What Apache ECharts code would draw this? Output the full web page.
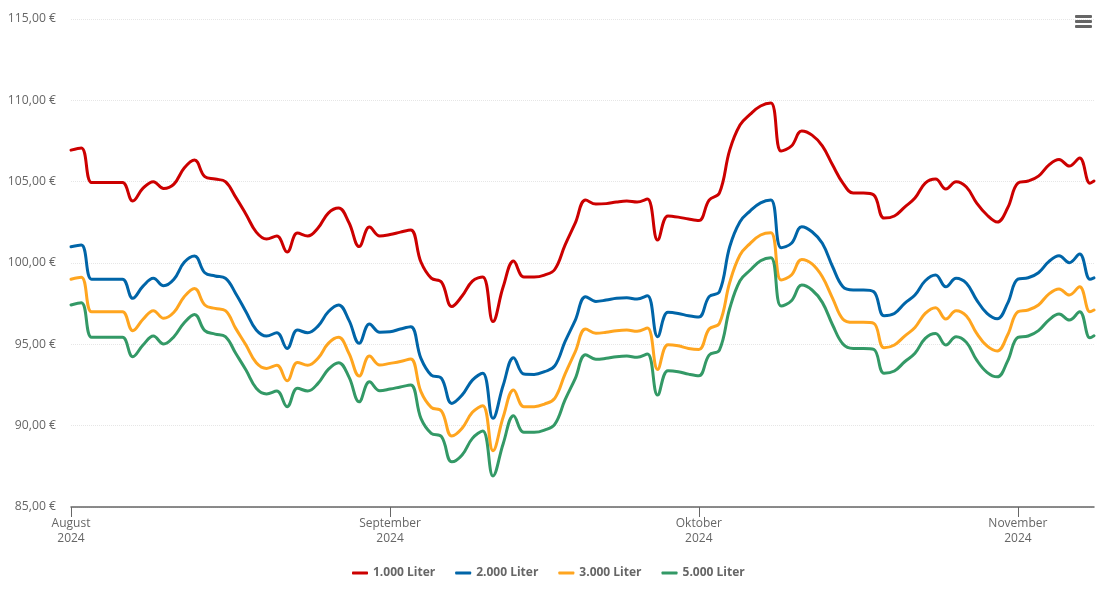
<!DOCTYPE html>
<html>
<head>
<meta charset="utf-8">
<style>html,body{margin:0;padding:0;background:#fff}#c{width:1105px;height:602px}</style>
<script src="https://cdn.jsdelivr.net/npm/echarts@6/dist/echarts.min.js"></script>
</head>
<body>
<div id="c"></div>
<script>
const startDay = "2024-08-01";
const lastSampleHours = 9.5; // last reading lies a few hours after the final daily sample
const monthTicks = ["2024-08-01","2024-09-01","2024-10-01","2024-11-01"];
const monthNames = ["August","September","Oktober","November"];
const yTicks = [85,90,95,100,105,110,115];

const liter1000 = [106.94,107.07,104.95,104.95,104.95,104.95,103.81,104.6,105.0,104.58,104.85,105.84,106.33,105.31,105.16,105.0,104.05,103.0,101.9,101.47,101.66,100.67,101.84,101.66,102.15,103.07,103.38,102.49,101.01,102.21,101.66,101.75,101.9,102.03,100.06,99.07,98.83,97.32,97.97,98.89,99.14,96.4,98.55,100.12,99.14,99.14,99.26,99.6,101.1,102.46,103.87,103.62,103.65,103.75,103.81,103.75,103.93,101.41,102.89,102.82,102.7,102.61,103.87,104.3,106.94,108.48,109.15,109.65,109.83,106.88,107.19,108.11,107.86,107.2,106.02,104.91,104.3,104.3,104.18,102.76,102.89,103.44,103.99,104.91,105.16,104.55,105.0,104.67,103.68,102.95,102.52,103.38,104.91,105.04,105.34,106.02,106.36,105.96,106.45,104.91,105.04];
const liter2000 = [101.0,101.1,99.0,99.0,99.0,99.0,97.83,98.58,99.06,98.6,99.0,100.04,100.43,99.4,99.2,99.06,98.13,97.0,95.88,95.51,95.71,94.75,95.88,95.71,96.12,97.0,97.42,96.49,95.06,96.25,95.74,95.77,95.94,96.08,94.14,93.11,92.91,91.37,91.88,92.8,93.22,90.45,92.5,94.18,93.17,93.15,93.32,93.67,95.16,96.49,97.93,97.64,97.72,97.83,97.86,97.78,97.99,95.47,96.97,96.9,96.76,96.68,97.93,98.23,101.0,102.54,103.21,103.7,103.87,100.94,101.21,102.23,101.92,101.21,99.77,98.54,98.34,98.34,98.23,96.76,96.9,97.52,98.03,98.91,99.26,98.54,99.06,98.75,97.72,96.9,96.57,97.52,99.01,99.09,99.4,100.08,100.45,100.02,100.55,99.0,99.09];
const liter3000 = [99.0,99.12,97.0,97.0,97.0,97.0,95.84,96.54,97.07,96.6,96.97,97.93,98.44,97.42,97.21,97.07,95.98,94.96,93.87,93.52,93.71,92.76,93.89,93.71,94.14,95.06,95.43,94.45,93.05,94.28,93.73,93.83,93.94,94.1,92.09,91.13,90.9,89.36,89.84,90.82,91.23,88.46,90.55,92.19,91.17,91.17,91.33,91.68,93.17,94.55,95.94,95.68,95.74,95.84,95.88,95.8,96.0,93.46,94.98,94.91,94.75,94.69,95.94,96.29,98.8,100.49,101.21,101.72,101.86,98.95,99.26,100.22,99.94,99.15,97.83,96.54,96.35,96.35,96.29,94.79,94.96,95.51,96.04,96.9,97.25,96.56,97.07,96.74,95.67,94.9,94.59,95.57,97.0,97.11,97.42,98.09,98.4,98.03,98.54,97.0,97.11];
const liter5000 = [97.42,97.56,95.43,95.43,95.43,95.43,94.24,94.96,95.51,95.02,95.47,96.33,96.84,95.84,95.63,95.47,94.45,93.42,92.3,91.95,92.13,91.17,92.3,92.13,92.6,93.46,93.87,93.0,91.47,92.7,92.15,92.25,92.38,92.5,90.45,89.53,89.32,87.78,88.2,89.22,89.67,86.91,88.91,90.61,89.59,89.59,89.73,90.08,91.58,92.91,94.36,94.08,94.14,94.24,94.28,94.2,94.4,91.88,93.38,93.32,93.17,93.07,94.34,94.65,97.2,98.91,99.57,100.14,100.33,97.35,97.68,98.64,98.34,97.58,96.19,95.02,94.75,94.75,94.69,93.22,93.36,93.93,94.45,95.37,95.67,94.96,95.47,95.12,94.03,93.28,93.0,93.97,95.43,95.51,95.84,96.49,96.86,96.49,97.0,95.4,95.53];

const DAY = 864e5;
const t0 = new Date(startDay + "T00:00:00").getTime();
const n = liter1000.length;
const times = liter1000.map((_, i) => i < n - 1 ? t0 + i * DAY : t0 + (n - 2) * DAY + lastSampleHours * 36e5);
const pairs = arr => arr.map((v, i) => [times[i], v]);
const tickTimes = monthTicks.map(d => new Date(d + "T00:00:00").getTime());

const seriesDefs = [
  ["1.000 Liter", liter1000, "#cc0000"],
  ["2.000 Liter", liter2000, "#0065a8"],
  ["3.000 Liter", liter3000, "#ffa51f"],
  ["5.000 Liter", liter5000, "#339966"]
];

const chart = echarts.init(document.getElementById("c"), null, {renderer: "canvas"});
const FONT = '"Open Sans", sans-serif';
chart.setOption({
  animation: false,
  backgroundColor: "#fff",
  textStyle: {fontFamily: FONT},
  grid: {left: 71, right: 11, top: 19, bottom: 95, containLabel: false},
  xAxis: {
    type: "value",
    scale: true,
    min: times[0],
    max: times[n - 1],
    axisLine: {onZero: false, lineStyle: {color: "#666", width: 1.5}},
    axisTick: {show: true, length: 10, lineStyle: {color: "#666"}, customValues: tickTimes},
    splitLine: {show: false},
    axisLabel: {
      color: "#666", fontSize: 12, fontFamily: FONT, lineHeight: 15, margin: 9, hideOverlap: false,
      showMinLabel: true, showMaxLabel: true,
      customValues: tickTimes,
      formatter: v => {
        const d = new Date(v);
        return monthNames[tickTimes.indexOf(v)] + "\n" + d.getFullYear();
      }
    }
  },
  yAxis: {
    type: "value", min: yTicks[0], max: yTicks[yTicks.length - 1], interval: 5,
    axisLine: {show: false}, axisTick: {show: false},
    splitLine: {show: true, lineStyle: {color: "#e6e6e6", type: "dotted", width: 1}},
    axisLabel: {color: "#666", fontSize: 12.2, fontFamily: FONT, margin: 15, padding: [3, 0, 0, 0],
      formatter: v => v.toFixed(2).replace(".", ",") + " €"}
  },
  legend: {
    bottom: 18, left: 347, icon: "roundRect", itemWidth: 16, itemHeight: 3, itemGap: 20,
    selectedMode: false,
    textStyle: {color: "#666", fontSize: 12, fontWeight: "bold", fontFamily: FONT},
    data: seriesDefs.map(s => s[0])
  },
  graphic: [15, 20, 25].map(y => ({
    type: "rect", left: 1075, top: y, silent: true,
    shape: {width: 17, height: 3, r: 1}, style: {fill: "#666"}
  })),
  series: seriesDefs.map(([name, arr, color]) => ({
    name, type: "line", data: pairs(arr), showSymbol: false, symbol: "none",
    smooth: 0.4, clip: false,
    lineStyle: {color, width: 3, cap: "round", join: "round"},
    itemStyle: {color}
  }))
});
</script>
</body>
</html>
